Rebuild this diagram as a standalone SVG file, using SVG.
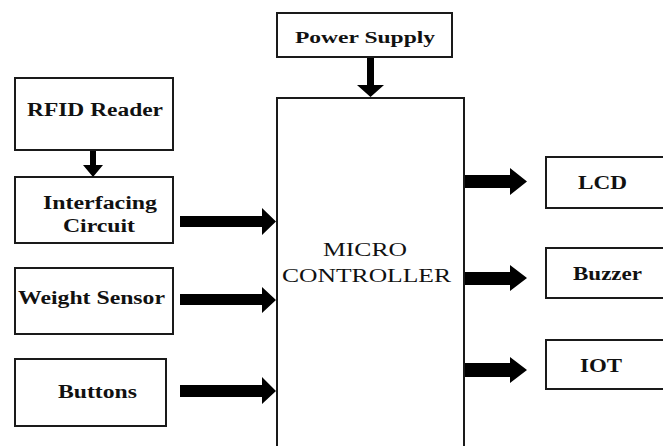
<svg xmlns="http://www.w3.org/2000/svg" width="663" height="446" viewBox="0 0 663 446">
<style>
.box{fill:#fff;stroke:#1a1a1a;stroke-width:2}
.lbl{font-family:'Liberation Serif','DejaVu Serif','Times New Roman',Times,serif;font-weight:bold;font-size:18px;fill:#111}
.mc{font-family:'Liberation Serif','DejaVu Serif','Times New Roman',Times,serif;font-size:19px;fill:#111}
.arr{fill:#000}
</style>
<rect width="663" height="446" fill="#fff"/>
<g id="rfid"><rect class="box" x="15" y="78" width="158" height="72"/><text class="lbl" x="27" y="116" textLength="136" lengthAdjust="spacingAndGlyphs">RFID Reader</text></g>
<g id="interfacing"><rect class="box" x="15" y="177" width="158" height="66"/><text class="lbl" x="43" y="209" textLength="114" lengthAdjust="spacingAndGlyphs">Interfacing</text><text class="lbl" x="63" y="232" textLength="72" lengthAdjust="spacingAndGlyphs">Circuit</text></g>
<g id="weight"><rect class="box" x="15" y="268" width="158" height="66"/><text class="lbl" x="18" y="304" textLength="147" lengthAdjust="spacingAndGlyphs">Weight Sensor</text></g>
<g id="buttons"><rect class="box" x="15" y="359" width="151" height="67"/><text class="lbl" x="58" y="398" textLength="79" lengthAdjust="spacingAndGlyphs">Buttons</text></g>
<g id="power"><rect class="box" x="277" y="13" width="175" height="44"/><text class="lbl" style="font-size:16px" x="295" y="43" textLength="140" lengthAdjust="spacingAndGlyphs">Power Supply</text></g>
<g id="micro"><rect class="box" x="277" y="98" width="187" height="370"/><text class="mc" x="323" y="256" textLength="84" lengthAdjust="spacingAndGlyphs">MICRO</text><text class="mc" x="282" y="282" textLength="169" lengthAdjust="spacingAndGlyphs">CONTROLLER</text></g>
<g id="lcd"><rect class="box" x="546" y="157" width="130" height="51"/><text class="lbl" x="578" y="189" textLength="49" lengthAdjust="spacingAndGlyphs">LCD</text></g>
<g id="buzzer"><rect class="box" x="546" y="248" width="130" height="50"/><text class="lbl" x="573" y="280" textLength="69" lengthAdjust="spacingAndGlyphs">Buzzer</text></g>
<g id="iot"><rect class="box" x="546" y="340" width="130" height="49"/><text class="lbl" x="580" y="372" textLength="42" lengthAdjust="spacingAndGlyphs">IOT</text></g>
<g id="connectors">
<polygon class="arr" points="90,151 96,151 96,165 103,165 93,177 83,165 90,165"/>
<polygon class="arr" points="367,58 374,58 374,85 384,85 370.5,97 357,85 367,85"/>
<polygon class="arr" points="180,216 262,216 262,208 276,221.5 262,235 262,227 180,227"/>
<polygon class="arr" points="180,294 262,294 262,287 276,300 262,313 262,305 180,305"/>
<polygon class="arr" points="180,385 262,385 262,377 276,391 262,404 262,397 180,397"/>
<polygon class="arr" points="465,175 510,175 510,168 527,181.5 510,195 510,188 465,188"/>
<polygon class="arr" points="465,272 510,272 510,265 527,278 510,291 510,285 465,285"/>
<polygon class="arr" points="465,363 510,363 510,357 527,370 510,383 510,377 465,377"/>
</g>
</svg>
